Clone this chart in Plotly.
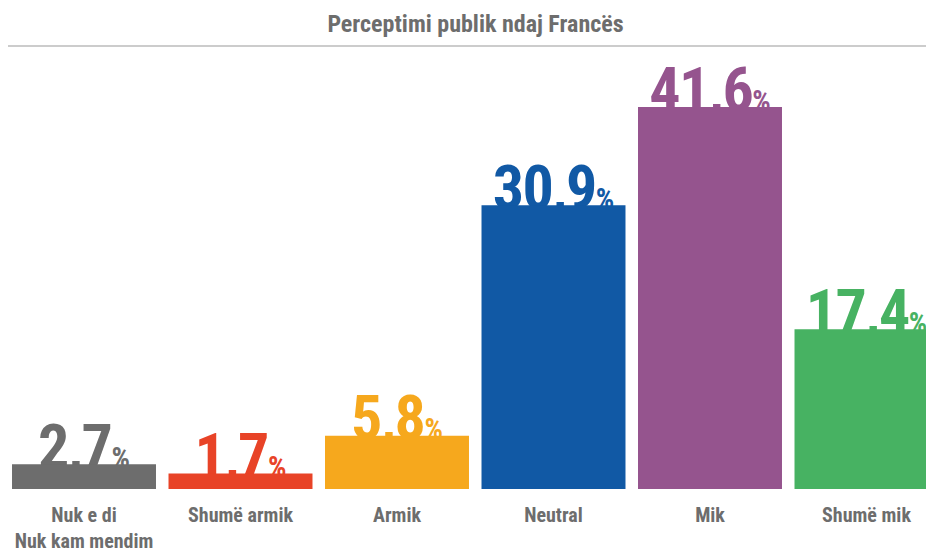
import plotly.graph_objects as go

categories = ["Nuk e di<br>Nuk kam mendim", "Shumë armik", "Armik", "Neutral", "Mik", "Shumë mik"]
values = [2.7, 1.7, 5.8, 30.9, 41.6, 17.4]
value_labels = ["2,7", "1,7", "5,8", "30,9", "41,6", "17,4"]
colors = ["#6d6d6d", "#e84327", "#f6a81d", "#1159a5", "#95548e", "#47b262"]
title_text = "Perceptimi publik ndaj Francës"

FONT = "Roboto Condensed, Open Sans Condensed, DejaVu Sans Condensed, sans-serif"
# the page body has an 8px default margin; size the figure so it fills the window
W, H = 934 - 8, 552 - 8
PPU = 9.18              # pixels per unit
SLOT = 156.5            # pixels per category
TOP_MARGIN = 52
BOTTOM_MARGIN = 44
BASE_LIFT = 19          # bar baseline sits this many px above the plot-area bottom
TEXT_DROP = 19          # value labels sit this many px lower than the bar tops
plot_h = H - TOP_MARGIN - BOTTOM_MARGIN
span = plot_h / PPU
bar_lo = -BASE_LIFT / PPU
text_lo = -(BASE_LIFT - TEXT_DROP) / PPU
x_lo = -76 / SLOT
x_hi = x_lo + W / SLOT

texts = [f"<b><span style='letter-spacing:-1.5px'>{v}</span><span style='font-size:29px'>%</span></b>"
         for v in value_labels]

fig = go.Figure()
# value labels (drawn underneath the bars)
fig.add_trace(go.Scatter(
    x=categories, y=values, mode="text", text=texts,
    textposition="top center",
    textfont=dict(family=FONT, size=62, color=colors),
    cliponaxis=False, hoverinfo="skip", showlegend=False,
    xaxis="x", yaxis="y",
))
# bars on an overlaid axis so they sit above the labels
fig.add_trace(go.Bar(
    x=categories, y=values, marker=dict(color=colors, line=dict(width=0)),
    showlegend=False, xaxis="x", yaxis="y2",
))

line_y = 1 + (TOP_MARGIN - 38) / plot_h
fig.update_layout(
    width=W, height=H,
    margin=dict(l=0, r=0, t=TOP_MARGIN, b=BOTTOM_MARGIN, autoexpand=False),
    paper_bgcolor="white", plot_bgcolor="white",
    bargap=0.08,
    title=dict(text=f"<b>{title_text}</b>", x=467.5 / W, xanchor="center", y=1 - 16 / H, yanchor="middle",
               font=dict(family=FONT, size=24, color="#6d6d6d")),
    xaxis=dict(range=[x_lo, x_hi], showgrid=False, zeroline=False, showline=False,
               anchor="free", position=BASE_LIFT / plot_h,
               ticks="", tickangle=0, automargin=False, ticklabelstandoff=12,
               tickfont=dict(family=FONT, size=20, color="#6d6d6d"),
               tickprefix="<b>", ticksuffix="</b>", fixedrange=True),
    yaxis=dict(range=[text_lo, text_lo + span], visible=False, fixedrange=True),
    yaxis2=dict(range=[bar_lo, bar_lo + span], visible=False, overlaying="y", fixedrange=True),
    shapes=[dict(type="line", xref="paper", yref="paper", x0=0, x1=1,
                 y0=line_y, y1=line_y, line=dict(color="#cccccc", width=2))],
)

fig.write_html("out.html")
